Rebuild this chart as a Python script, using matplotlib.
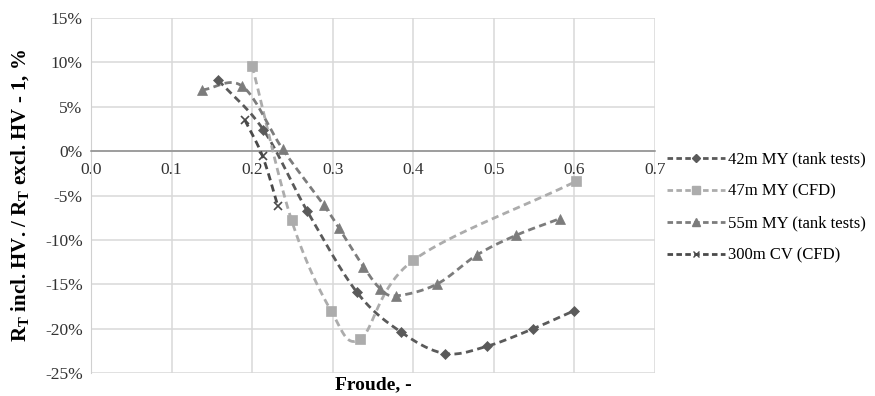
import matplotlib
matplotlib.use('Agg')
import matplotlib.pyplot as plt
import numpy as np

# 42m MY (tank tests)
fr_42 = [0.158, 0.214, 0.268, 0.330, 0.385, 0.439, 0.491, 0.549, 0.599]
rt_42 = [8.0, 2.4, -6.7, -15.9, -20.4, -22.8, -22.0, -20.0, -18.0]

# 47m MY (CFD)
fr_47 = [0.200, 0.249, 0.298, 0.334, 0.400, 0.602]
rt_47 = [9.6, -7.8, -18.0, -21.2, -12.3, -3.4]

# 55m MY (tank tests)
fr_55 = [0.138, 0.188, 0.238, 0.289, 0.308, 0.338, 0.359, 0.379, 0.429, 0.479, 0.527, 0.582]
rt_55 = [6.9, 7.3, 0.2, -6.1, -8.7, -13.0, -15.5, -16.3, -15.0, -11.7, -9.5, -7.6]

# 300m CV (CFD)
fr_300 = [0.191, 0.213, 0.232]
rt_300 = [3.5, -0.6, -6.2]

x_ticks = [0.0, 0.1, 0.2, 0.3, 0.4, 0.5, 0.6, 0.7]
y_ticks = [-25, -20, -15, -10, -5, 0, 5, 10, 15]

plt.rcParams['font.family'] = ['Liberation Serif', 'DejaVu Serif']
plt.rcParams['mathtext.fontset'] = 'custom'
plt.rcParams['mathtext.rm'] = 'Liberation Serif'
plt.rcParams['mathtext.bf'] = 'Liberation Serif:bold'


def smooth(x, y, n=20):
    # Catmull-Rom curve through the points, like Excel's smoothed lines
    p = np.column_stack([x, y]).astype(float)
    if len(p) < 3:
        return p[:, 0], p[:, 1]
    ext = np.vstack([2 * p[0] - p[1], p, 2 * p[-1] - p[-2]])
    out = []
    t = np.linspace(0, 1, n, endpoint=False)[:, None]
    for i in range(1, len(ext) - 2):
        p0, p1, p2, p3 = ext[i - 1], ext[i], ext[i + 1], ext[i + 2]
        seg = 0.5 * ((2 * p1) + (-p0 + p2) * t
                     + (2 * p0 - 5 * p1 + 4 * p2 - p3) * t ** 2
                     + (-p0 + 3 * p1 - 3 * p2 + p3) * t ** 3)
        out.append(seg)
    out.append(p[-1:])
    out = np.vstack(out)
    return out[:, 0], out[:, 1]


fig = plt.figure(figsize=(8.75, 3.96), dpi=100)
ax = fig.add_axes([0.104, 0.058, 0.6446, 0.8965])

series = [
    (fr_42, rt_42, '#5a5a5a', 'D', 5.5, '42m MY (tank tests)'),
    (fr_47, rt_47, '#acacac', 's', 7.5, '47m MY (CFD)'),
    (fr_55, rt_55, '#7c7c7c', '^', 7.5, '55m MY (tank tests)'),
    (fr_300, rt_300, '#4a4a4a', 'x', 6, '300m CV (CFD)'),
]

handles = []
for x, y, col, mk, ms, lab in series:
    sx, sy = smooth(x, y)
    ax.plot(sx, sy, color=col, lw=2.0, dashes=(2.6, 1.6), zorder=3)
    ax.plot(x, y, ls='none', marker=mk, ms=ms, color=col,
            mec=col, mew=1.2 if mk == 'x' else 0.5, zorder=4)
    h, = ax.plot([], [], color=col, lw=2.0, dashes=(2.0, 1.2),
                 marker=mk, ms=ms * 0.7, mec=col, label=lab)
    handles.append(h)

ax.set_xlim(0, 0.7)
ax.set_ylim(-25, 15)
ax.set_xticks(x_ticks)
ax.set_yticks(y_ticks)
ax.set_xticklabels([f'{v:.1f}' for v in x_ticks])
ax.set_yticklabels([f'{v}%' for v in y_ticks])
ax.grid(True, color='#d9d9d9', lw=1.1)
ax.set_axisbelow(True)

for s in ['top', 'right']:
    ax.spines[s].set_visible(False)
ax.spines['left'].set_color('#d0d0d0')
ax.spines['bottom'].set_position(('data', 0))
ax.spines['bottom'].set_color('#8c8c8c')
ax.spines['bottom'].set_linewidth(1.1)
ax.tick_params(axis='both', length=0, labelsize=12.5, colors='#333333')
ax.tick_params(axis='x', pad=8)
ax.tick_params(axis='y', pad=6)

ax.set_xlabel('Froude, -', fontsize=14, fontweight='bold')
ax.xaxis.set_label_coords(0.5, -0.008)
ax.set_ylabel(r'R$_{\mathbf{T}}$ incl. HV. / R$_{\mathbf{T}}$ excl. HV - 1, %',
              fontsize=15, fontweight='bold')
ax.yaxis.set_label_coords(-0.104, 0.5)

fig.legend(handles=handles, loc='upper left', bbox_to_anchor=(0.755, 0.634),
           frameon=False, fontsize=12, handlelength=3.45, handletextpad=0.2,
           labelspacing=0.96, borderaxespad=0)

fig.savefig('out.png', dpi=100)
